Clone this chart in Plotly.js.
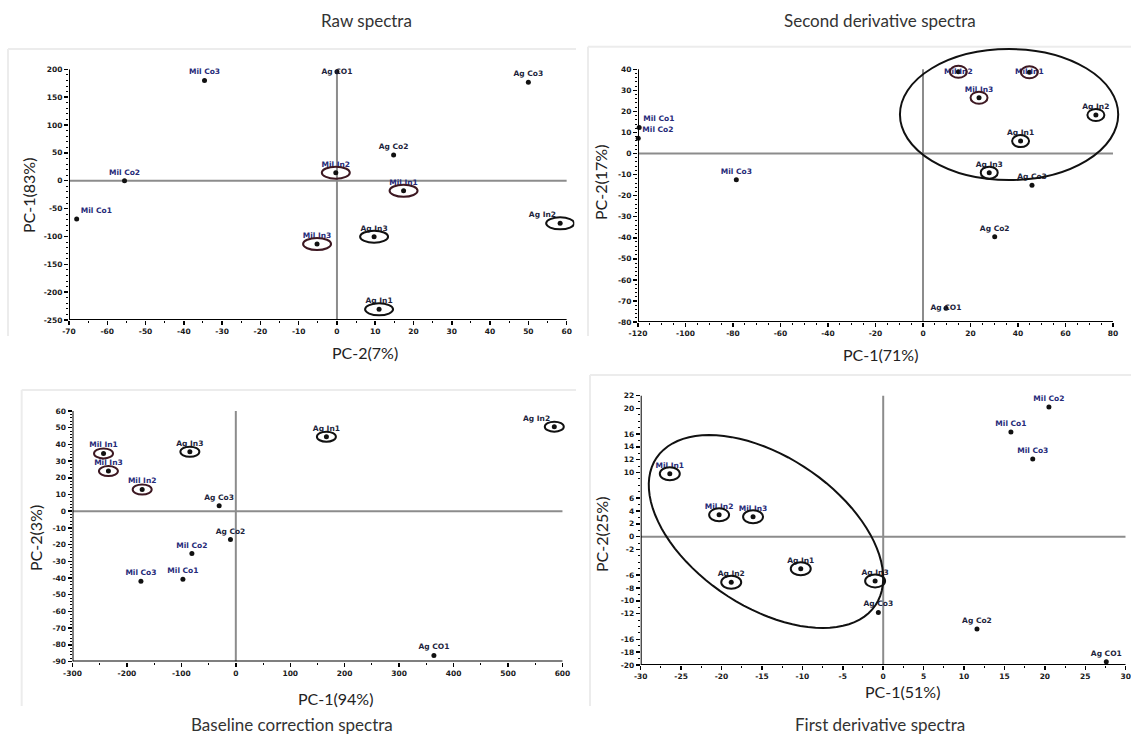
<!DOCTYPE html>
<html><head><meta charset="utf-8">
<script src="https://cdn.plot.ly/plotly-3.0.1.min.js"></script>
<style>html,body{margin:0;padding:0;background:#fff}#chart{width:1131px;height:735px}</style>
</head><body><div id="chart"></div>
<script>
// ---------- data ----------
const names = ['Mil Co1','Mil Co2','Mil Co3','Ag CO1','Ag Co2','Ag Co3','Mil In1','Mil In2','Mil In3','Ag In1','Ag In2','Ag In3'];

// Raw spectra: x = PC-2(7%), y = PC-1(83%)
const rawX = [-68.0, -55.5, -34.6, 0.0, 14.8, 50.0, 17.4, -0.3, -5.2, 11.0, 58.3, 9.7];
const rawY = [-68.8, 0.0, 180.0, 195.7, 46.1, 176.7, -18.0, 14.4, -113.6, -230.9, -76.5, -100.5];
const rawXTicks = [-70,-60,-50,-40,-30,-20,-10,0,10,20,30,40,50,60];
const rawYTicks = [-250,-200,-150,-100,-50,0,50,100,150,200];

// Second derivative spectra: x = PC-1(71%), y = PC-2(17%)
const secondX = [-119.5, -119.9, -78.6, 9.7, 30.2, 45.9, 44.8, 14.9, 23.6, 41.1, 72.8, 27.9];
const secondY = [12.4, 7.2, -12.4, -73.5, -39.5, -15.1, 38.6, 38.8, 26.5, 5.9, 18.3, -9.1];
const secondXTicks = [-120,-100,-80,-60,-40,-20,0,20,40,60,80];
const secondYTicks = [-80,-70,-60,-50,-40,-30,-20,-10,0,10,20,30,40];
const secondCluster = {x0: -9.7, x1: 82.2, y0: -12.6, y1: 49.6};

// Baseline correction spectra: x = PC-1(94%), y = PC-2(3%)
const baseX = [-97.2, -80.7, -174.3, 363.9, -9.8, -30.6, -243.0, -172.0, -234.0, 166.4, 585.0, -84.4];
const baseY = [-40.8, -25.4, -42.0, -86.4, -17.0, 3.2, 34.6, 13.0, 24.0, 44.6, 50.6, 35.6];
const baseXTicks = [-300,-200,-100,0,100,200,300,400,500,600];
const baseYTicks = [-90,-80,-70,-60,-50,-40,-30,-20,-10,0,10,20,30,40,50,60];

// First derivative spectra: x = PC-1(51%), y = PC-2(25%)
const firstX = [15.8, 20.5, 18.5, 27.6, 11.6, -0.6, -26.4, -20.3, -16.1, -10.2, -18.8, -1.0];
const firstY = [16.3, 20.2, 12.1, -19.5, -14.4, -11.8, 9.8, 3.4, 3.1, -5.0, -7.1, -6.9];
const firstXTicks = [-30,-25,-20,-15,-10,-5,0,5,10,15,20,25,30];
const firstYTicks = [-20,-18,-16,-12,-10,-8,-6,-2,0,2,4,6,10,12,14,16,20,22];
const firstCluster = {cx: -14.5, cy: 0.8, ux: 13.54, uy: -11.49, vx: 5.19, vy: 9.69};

// ---------- styles / layout helpers ----------
const W = 1131, H = 735;
const fx = p => p / W;
const fy = p => 1 - p / H;

const rawPos    = ['top right','top center','top center','middle center','top center','top center','top center','top center','top center','top center','top left','top center'];
const secondPos = ['top right','top right','top center','middle center','top center','top center','middle center','middle center','top center','top center','top center','top center'];
const basePos   = ['top center','top center','top center','top center','top center','top center','top center','top center','top center','top center','top left','top center'];
const firstPos  = ['top center','top center','top center','top center','top center','top center','top center','top center','top center','top center','top center','top center'];

const panels = [
  {xs: rawX, ys: rawY, xt: rawXTicks, yt: rawYTicks, xr: [-70, 62], yr: [-250, 200],
   dx: [69, 574.3], dy: [69.3, 320], xm: 5, ym: 10, pos: rawPos, ew: 28, eh: 12, milCol: '#3d1822'},
  {xs: secondX, ys: secondY, xt: secondXTicks, yt: secondYTicks, xr: [-120, 83], yr: [-80, 51],
   dx: [638, 1120.1], dy: [46.1, 322], xm: 5, ym: 2, pos: secondPos, ew: 17, eh: 12, milCol: '#3d1822'},
  {xs: baseX, ys: baseY, xt: baseXTicks, yt: baseYTicks, xr: [-300, 610], yr: [-90, 60],
   dx: [72.5, 567.9], dy: [411, 661.5], xm: 50, ym: 2, pos: basePos, ew: 19, eh: 10, milCol: '#3d1822'},
  {xs: firstX, ys: firstY, xt: firstXTicks, yt: firstYTicks, xr: [-30, 30], yr: [-20, 22],
   dx: [640.7, 1125.7], dy: [395.5, 665], xm: 2.5, ym: 1, pos: firstPos, ew: 20, eh: 13, milCol: '#111'}
];

function minorVals(ticks, step) {
  const a = ticks[0], b = ticks[ticks.length - 1];
  const n = Math.round((b - a) / step);
  const out = [];
  for (let i = 0; i <= n; i++) out.push(+(a + i * step).toFixed(4));
  return out;
}

const data = [];
const shapes = [];
const layout = {
  width: W, height: H, margin: {l: 0, r: 0, t: 0, b: 0},
  paper_bgcolor: '#fff', plot_bgcolor: 'rgba(0,0,0,0)', showlegend: false,
  font: {family: 'DejaVu Sans', color: '#222'}
};

const labelColors = names.map(n => n.startsWith('Mil') ? '#262a78' : '#1d1f3c');

panels.forEach((p, i) => {
  const k = i === 0 ? '' : String(i + 1);
  const xa = 'x' + k, ya = 'y' + k;
  data.push({
    type: 'scatter', mode: 'markers+text', x: p.xs, y: p.ys, text: names,
    xaxis: xa, yaxis: ya, cliponaxis: false, hoverinfo: 'text',
    textposition: p.pos,
    textfont: {family: 'DejaVu Sans', size: 7.5, color: labelColors, weight: 'bold'},
    marker: {size: 5, color: '#111'}
  });
  const axBase = {
    showgrid: false, zeroline: false, showline: false,
    ticks: 'outside', ticklen: 4, tickwidth: 1.5, tickcolor: '#000',
    tickfont: {family: 'DejaVu Sans', size: 7.5, color: '#1a1a1a', weight: 'bold'},
    tickmode: 'array', fixedrange: true
  };
  layout['xaxis' + k] = Object.assign({}, axBase, {
    domain: [fx(p.dx[0]), fx(p.dx[1])], anchor: ya, range: p.xr,
    tickvals: p.xt, ticktext: p.xt.map(String),
    minor: {tickmode: 'array', tickvals: minorVals(p.xt, p.xm), ticks: 'outside', ticklen: 2, tickcolor: '#000', tickwidth: 1}
  });
  layout['yaxis' + k] = Object.assign({}, axBase, {
    domain: [fy(p.dy[1]), fy(p.dy[0])], anchor: xa, range: p.yr,
    tickvals: p.yt, ticktext: p.yt.map(String),
    minor: {tickmode: 'array', tickvals: minorVals(p.yt, p.ym), ticks: 'outside', ticklen: 2, tickcolor: '#000', tickwidth: 1}
  });
  const x0 = p.xt[0], x1 = p.xt[p.xt.length - 1];
  const y0 = p.yt[0], y1 = p.yt[p.yt.length - 1];
  // zero reference lines
  shapes.push({type: 'line', xref: xa, yref: ya, x0: x0, x1: x1, y0: 0, y1: 0, layer: 'below', line: {color: '#8c8c8c', width: 2}});
  shapes.push({type: 'line', xref: xa, yref: ya, x0: 0, x1: 0, y0: y0, y1: y1, layer: 'below', line: {color: '#8c8c8c', width: 2}});
  // axis lines
  shapes.push({type: 'line', xref: xa, yref: ya, x0: x0, x1: x1, y0: y0, y1: y0, line: {color: '#000', width: 2}});
  shapes.push({type: 'line', xref: xa, yref: ya, x0: x0, x1: x0, y0: y0, y1: y1, line: {color: '#000', width: 2}});
  // small ellipses around "In" samples
  names.forEach((n, j) => {
    if (n.indexOf(' In') < 0) return;
    shapes.push({type: 'circle', xref: xa, yref: ya, xsizemode: 'pixel', ysizemode: 'pixel',
      xanchor: p.xs[j], yanchor: p.ys[j], x0: -p.ew / 2, x1: p.ew / 2, y0: -p.eh / 2, y1: p.eh / 2,
      line: {color: n.startsWith('Mil') ? p.milCol : '#111', width: 2}});
  });
});

// big cluster ellipse, second derivative panel
shapes.push({type: 'circle', xref: 'x2', yref: 'y2', x0: secondCluster.x0, x1: secondCluster.x1,
  y0: secondCluster.y0, y1: secondCluster.y1, line: {color: '#111', width: 2}});

// big tilted cluster ellipse, first derivative panel
(function () {
  const c = firstCluster, N = 90;
  let d = '';
  for (let i = 0; i <= N; i++) {
    const t = 2 * Math.PI * i / N;
    const x = c.cx + c.ux * Math.cos(t) + c.vx * Math.sin(t);
    const y = c.cy + c.uy * Math.cos(t) + c.vy * Math.sin(t);
    d += (i === 0 ? 'M' : 'L') + x.toFixed(3) + ',' + y.toFixed(3);
  }
  shapes.push({type: 'path', xref: 'x4', yref: 'y4', path: d + 'Z', line: {color: '#111', width: 2}});
})();

// faint panel frames
const frame = {color: '#ececec', width: 2};
[[8, 49, 576, 336], [588, 46.7, 1131, 336], [21.7, 390, 576, 706], [590, 375, 1131, 706]].forEach(r => {
  shapes.push({type: 'line', xref: 'paper', yref: 'paper', x0: fx(r[0]), x1: fx(r[2]), y0: fy(r[1]), y1: fy(r[1]), layer: 'below', line: frame});
  shapes.push({type: 'line', xref: 'paper', yref: 'paper', x0: fx(r[0]), x1: fx(r[0]), y0: fy(r[1]), y1: fy(r[3]), layer: 'below', line: frame});
});
layout.shapes = shapes;

// titles
const tFont = {family: 'Lato, Open Sans, sans-serif', size: 17, color: '#333'};
const aFont = {family: 'Lato, Open Sans, sans-serif', size: 16, color: '#222'};
function ann(text, px, py, font, rot) {
  return {text: text, xref: 'paper', yref: 'paper', x: fx(px), y: fy(py), xanchor: 'center', yanchor: 'middle',
    showarrow: false, font: font, textangle: rot || 0};
}
layout.annotations = [
  ann('Raw spectra', 366, 20, tFont),
  ann('Second derivative spectra', 880, 20, tFont),
  ann('Baseline correction spectra', 292, 724, tFont),
  ann('First derivative spectra', 880, 724, tFont),
  ann('PC-2(7%)', 365, 352, aFont),
  ann('PC-1(83%)', 29, 196, aFont, -90),
  ann('PC-1(71%)', 880, 354, aFont),
  ann('PC-2(17%)', 600, 183, aFont, -90),
  ann('PC-1(94%)', 335, 698, aFont),
  ann('PC-2(3%)', 35, 538, aFont, -90),
  ann('PC-1(51%)', 902, 691, aFont),
  ann('PC-2(25%)', 601, 535, aFont, -90)
];

Plotly.newPlot('chart', data, layout, {staticPlot: true, displayModeBar: false});
</script>
</body></html>
